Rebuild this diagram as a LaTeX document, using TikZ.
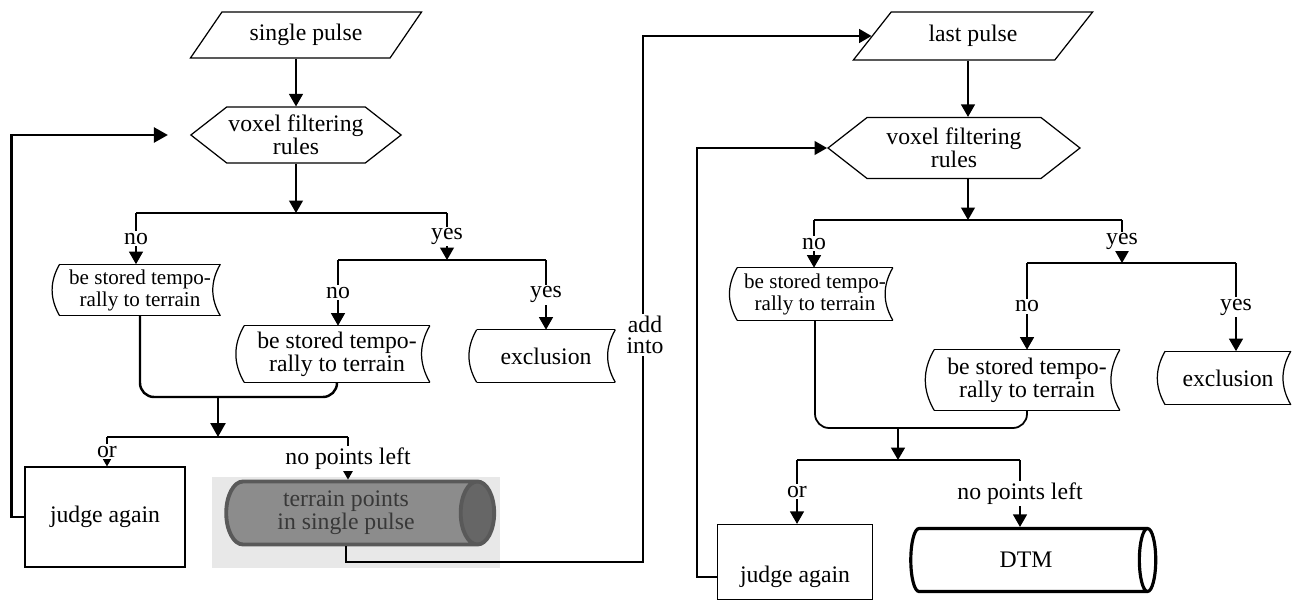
\documentclass[tikz,border=0pt]{standalone}
\usepackage{fontspec}
\setmainfont{Liberation Serif}
\usetikzlibrary{arrows.meta,shapes.geometric,shapes.symbols,backgrounds}
\newcommand{\ftext}{\fontsize{13.5}{12}\selectfont}
\newcommand{\fsmall}{\fontsize{12}{12.5}\selectfont}
\tikzset{
  fline/.style ={line width=0.7pt},
  fbold/.style ={line width=1.4pt},
  farrow/.style={fline, -{Triangle[length=2.5mm, width=2.8mm]}},
  fboldarrow/.style={fbold, -{Triangle[length=2.8mm, width=3mm]}},
  pulsebox/.style={trapezium, trapezium left angle=55, trapezium right angle=125,
                   trapezium stretches=true, draw, fline},
  rulebox/.style={signal, signal to=east and west, signal pointer angle=76,
                  draw, fline, align=center, inner sep=1pt},
  storebox/.style={align=center, inner sep=1pt,
                   append after command={
                     (\tikzlastnode.north west) edge[fline, bend right=30] (\tikzlastnode.south west)
                     (\tikzlastnode.south west) edge[fline] (\tikzlastnode.south east)
                     (\tikzlastnode.south east) edge[fline, bend left=30] (\tikzlastnode.north east)
                     (\tikzlastnode.north east) edge[fline] (\tikzlastnode.north west)}},
  judgebox/.style={rectangle, draw, fline},
  tube/.style={cylinder, shape border rotate=0, aspect=0.6, draw, align=center},
  brlabel/.style={fill=white, inner sep=1pt, align=center},
}

\begin{document}
\begin{tikzpicture}[x=0.02cm, y=-0.02cm, font=\ftext]
\useasboundingbox (0,0) rectangle (1298,601);
% scanned patch behind the left tube
\fill[black!9] (212,477) rectangle (500,568);

% ---- single pulse side
\node[pulsebox, minimum width=4.66cm, minimum height=0.92cm] (sp1) at (306,35) {single pulse};
\node[rulebox, minimum width=4.16cm, minimum height=1.12cm] (vf1) at (296,135) {voxel filtering\\rules};
\node[storebox, font=\fsmall, minimum width=3.2cm, minimum height=1.02cm] (st1) at (140,290) {be stored tempo-\\rally to terrain};
\node[storebox, minimum width=3.7cm, minimum height=1.12cm] (st2) at (337,354) {be stored tempo-\\rally to terrain};
\node[storebox, minimum width=2.76cm, minimum height=1.04cm] (ex1) at (546,356) {exclusion};
\node[judgebox, minimum width=3.2cm, minimum height=2cm] (ja1) at (105,517) {judge again};
\node[tube, minimum width=1.26cm, minimum height=5.36cm, line width=2.2pt, draw=black!65,
      cylinder uses custom fill, cylinder body fill=black!45, cylinder end fill=black!60,
      text=black!78] (cy1) at (346,513) {terrain points\\in single pulse};

\coordinate (b1)  at (296,213);
\coordinate (b1l) at (136,213);
\coordinate (b1r) at (447,213);
\coordinate (b2l) at (338,260);
\coordinate (b2r) at (546,260);
\coordinate (m1)  at (218,397);
\coordinate (b3)  at (218,437);
\coordinate (b3l) at (107,437);
\coordinate (b3r) at (348,437);

\draw[farrow] (sp1.south -| vf1.north) -- (vf1.north);
\draw[farrow] (vf1.south) -- (b1);
\draw[fline] (b1l) -- (b1r);
\draw[farrow] (b1l) -- (b1l |- st1.north) node[brlabel, midway] {no};
\draw[farrow] (b1r) -- (b1r |- b2l) node[brlabel, midway] {yes};
\draw[fline] (b2l) -- (b2r);
\draw[farrow] (b2l) -- (b2l |- st2.north) node[brlabel, midway] {no};
\draw[farrow] (b2r) -- (b2r |- ex1.north) node[brlabel, midway] {yes};
\draw[fbold, rounded corners=8] (st1.south) |- (m1) -| (st2.south);
\draw[fboldarrow] (m1) -- (b3);
\draw[fbold] (b3l) -- (b3r);
\draw[farrow] (b3l) -- (b3l |- ja1.north) node[brlabel, midway] {or};
\draw[farrow] (b3r) -- (b3r |- cy1.north) node[brlabel, midway] {no points left};
\draw[fboldarrow, shorten >=0.44cm] (ja1.west) -- ++(-13,0) |- (vf1.west);

% ---- last pulse side
\node[pulsebox, minimum width=4.8cm, minimum height=0.96cm] (lp) at (973,36) {last pulse};
\node[rulebox, minimum width=5.04cm, minimum height=1.22cm] (vf2) at (954,148) {voxel filtering\\rules};
\node[storebox, font=\fsmall, minimum width=3.1cm, minimum height=1.04cm] (st3) at (815,294) {be stored tempo-\\rally to terrain};
\node[storebox, minimum width=3.7cm, minimum height=1.2cm] (st4) at (1027,380) {be stored tempo-\\rally to terrain};
\node[storebox, minimum width=2.5cm, minimum height=1.06cm] (ex2) at (1228,378) {exclusion};
\node[judgebox, minimum width=3.1cm, minimum height=1.5cm, text height=27pt, text depth=3.4pt] (ja2) at (795,562) {judge again};
\node[tube, minimum width=1.26cm, minimum height=4.9cm, line width=1.8pt] (cy2) at (1026,560) {DTM};

\coordinate (b4)  at (968,220);
\coordinate (b4l) at (814,220);
\coordinate (b4r) at (1122,220);
\coordinate (b5l) at (1027,263);
\coordinate (b5r) at (1236,263);
\coordinate (m2)  at (898,428);
\coordinate (b6)  at (898,460);
\coordinate (b6l) at (797,460);
\coordinate (b6r) at (1020,460);

\draw[farrow] (lp.south -| b4) -- (vf2.north -| b4);
\draw[farrow] (vf2.south -| b4) -- (b4);
\draw[fline] (b4l) -- (b4r);
\draw[farrow] (b4l) -- (b4l |- st3.north) node[brlabel, midway] {no};
\draw[farrow] (b4r) -- (b4r |- b5l) node[brlabel, midway] {yes};
\draw[fline] (b5l) -- (b5r);
\draw[farrow] (b5l) -- (b5l |- st4.north) node[brlabel, midway] {no};
\draw[farrow] (b5r) -- (b5r |- ex2.north) node[brlabel, midway] {yes};
\draw[fline, line width=1pt, rounded corners=8] (st3.south) |- (m2) -| (st4.south);
\draw[farrow, line width=1pt] (m2) -- (b6);
\draw[fline, line width=1pt] (b6l) -- (b6r);
\draw[farrow] (b6l) -- (b6l |- ja2.north) node[brlabel, midway] {or};
\draw[farrow] (b6r) -- (b6r |- cy2.north) node[brlabel, midway] {no points left};
\draw[farrow] ([yshift=-0.3cm]ja2.west) -- ++(-20,0) |- (vf2.west);

% ---- link between the two passes
\coordinate (ai) at (643,562);
\draw[farrow, line width=1pt] (cy1.south) |- (ai) |- (lp.west);
\node[brlabel] (addl) at (645,335) {add\\into};
\end{tikzpicture}
\end{document}
